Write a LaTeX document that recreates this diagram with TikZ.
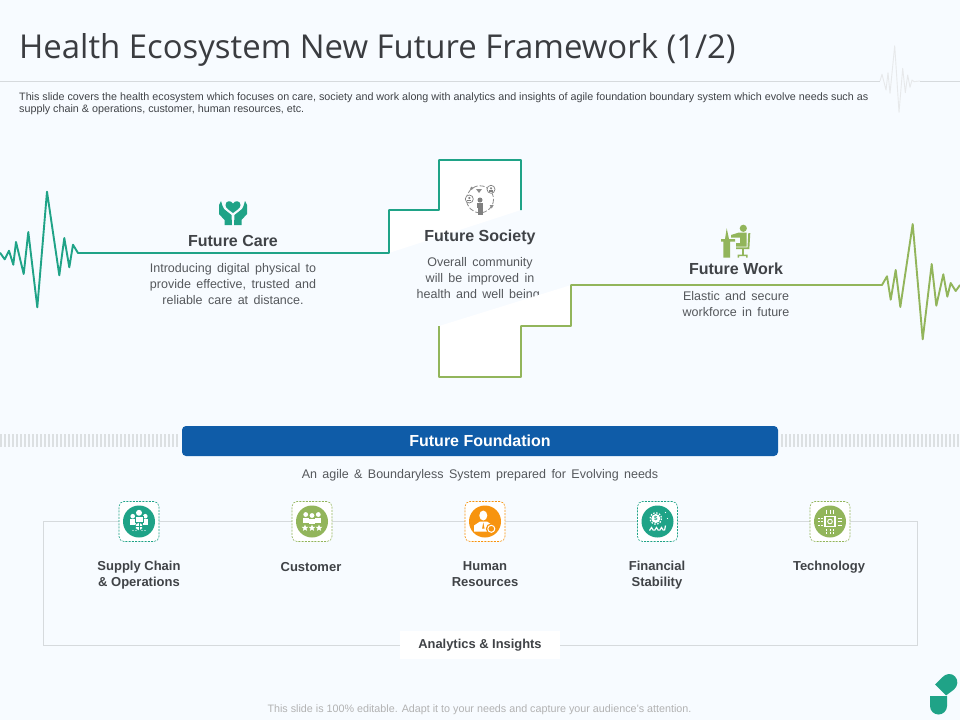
\documentclass[tikz,border=0pt]{standalone}
\usepackage{fontspec}
\setmainfont{Liberation Sans}
\newfontfamily\titlefont{Open Sans}
\newfontfamily\bodyfont[WordSpace=1.55]{Liberation Sans}
\usetikzlibrary{calc,shapes.geometric}

\definecolor{pagebg}{HTML}{F7FBFF}
\definecolor{teal}{HTML}{1FA387}
\definecolor{leaf}{HTML}{92B55B}
\definecolor{amber}{HTML}{F7940F}
\definecolor{barblue}{HTML}{0F5CA8}
\definecolor{inkdark}{HTML}{404347}
\definecolor{inkbody}{HTML}{55585C}
\definecolor{rulegrey}{HTML}{D6DADD}

\begin{document}
\begin{tikzpicture}[x=1pt,y=-1pt,
    bodytext/.style={text=inkbody, font=\bodyfont\fontsize{12.5}{16}\selectfont, align=center, inner sep=0},
    headtext/.style={text=inkdark, font=\fontsize{16}{18}\selectfont\bfseries, inner sep=0},
    itemtext/.style={text=inkdark, font=\fontsize{13}{16}\selectfont\bfseries, align=center, inner sep=0},
    pulseline/.style={line width=1.9pt, line join=round},
    iconbox/.style={draw=#1, dashed, dash pattern=on 2pt off 1.2pt, fill=white, rounded corners=5pt, minimum width=40pt, minimum height=40pt, inner sep=0, line width=0.6pt},
    icondisc/.style={circle, fill=#1, minimum size=32pt, inner sep=0}]

            \useasboundingbox (0,0) rectangle (960,720);
            \fill[pagebg] (0,0) rectangle (960,720);

            % Title block
            \node[anchor=west, inner sep=0, text=inkdark!90!black, font=\titlefont\fontsize{32.9}{36}\selectfont] (title) at (19,50) {Health Ecosystem New Future Framework (1/2)};
            \draw[rulegrey, line width=0.8pt] (0,81) -- (960,81);
            \fill[pagebg] (880,45) rectangle (920,115);
            \draw[rulegrey!60, line width=0.9pt, line join=round] (880,81) -- (882,74.3) -- (886,90) -- (888,72.7) -- (890,93.3) -- (894.7,45.7) -- (899,112.3) -- (902.7,68.3) -- (905.3,92.7) -- (907.7,75) -- (910,87.3) -- (912,80) -- (914,81.7) -- (920,81);
            \node[anchor=north west, inner sep=0, text=inkdark, align=left, font=\fontsize{10.75}{12}\selectfont] (intro) at (19,92.5) {This slide covers the health ecosystem which focuses on care, society and work along with analytics and insights of agile foundation boundary system which evolve needs such as\\supply chain \& operations, customer, human resources, etc.};

            % White cross, upper half
            \fill[white] (389,253) -- (389,210) -- (439,210) -- (439,160) -- (521,160) -- (521,210) -- cycle;

            % Future Society text
            \node[headtext] (society) at (480,237) {Future Society};
            \node[bodytext, anchor=north] (societytext) at (480,257.5) {Overall community\\will be improved in\\health and well being.};

            % White cross, lower half
            \fill[white] (571,285) -- (571,326) -- (521,326) -- (521,377) -- (439,377) -- (439,326) -- cycle;

            % Pulse lines
            \draw[teal, pulseline] (0,252.7) -- (4.7,259.3) -- (9,250.7) -- (13.3,264.7) -- (16,242) -- (23.7,274) -- (28.3,232) -- (37.3,307.3) -- (47,191.7) -- (59.3,275.3) -- (64.3,238) -- (69.3,267.3) -- (73,244.7) -- (78,253) -- (389,253) -- (389,210) -- (439,210) -- (439,160) -- (521,160) -- (521,210);
            \draw[leaf, pulseline] (439,326) -- (439,377) -- (521,377) -- (521,326) -- (571,326) -- (571,285) -- (882,285) -- (887,276.3) -- (890.7,299.7) -- (895.7,270) -- (900.3,307) -- (912.7,224) -- (922.7,339.3) -- (931.7,264) -- (936.3,305.7) -- (943.3,274.3) -- (947.3,296.7) -- (950.7,283) -- (955.7,291) -- (960,285);

            % Future Care
            \node[headtext] (care) at (233,240.5) {Future Care};
            \node[bodytext, anchor=north] (caretext) at (233,263.5) {Introducing digital physical to\\provide effective, trusted and\\reliable care at distance.};
            \begin{scope}[shift={(233,212)}]
                \fill[teal] (0,1) .. controls (-4,-2) and (-7.5,-4) .. (-7.5,-7) .. controls (-7.5,-11.5) and (-2,-12) .. (0,-8.5) .. controls (2,-12) and (7.5,-11.5) .. (7.5,-7) .. controls (7.5,-4) and (4,-2) .. (0,1) -- cycle;
                \fill[teal] (-14,-7) -- (-12,-11) -- (-10.5,-6) -- (-9,-3) -- (-1.5,3) -- (-1,13) -- (-8.5,13) -- (-8.5,8) -- (-14,2) -- cycle;
                \fill[teal] (14,-7) -- (12,-11) -- (10.5,-6) -- (9,-3) -- (1.5,3) -- (1,13) -- (8.5,13) -- (8.5,8) -- (14,2) -- cycle;
            \end{scope}

            % Future Society icon
            \begin{scope}[shift={(480,200)}]
                \draw[gray!90, line width=0.8pt, dash pattern=on 5pt off 2pt] (0,-0.7) circle (13.5);
                \fill[gray] (0,0) circle (2.5);
                \fill[gray] (-3,2.5) rectangle (3,8);
                \fill[gray] (-2.5,8) rectangle (2.5,15);
                \fill[gray!90] (-4,-11) -- (2,-11) -- (-1,-7) -- cycle;
                \fill[gray!90] (-8.3,-11.7) circle (1.6);
                \fill[gray!90] (9.7,5) -- (13.7,5) -- (11.7,8.5) -- cycle;
                \foreach \px/\py in {-10.7/-1,11/-10.7}{
                    \draw[gray, fill=white, line width=0.7pt] (\px,\py) circle (4);
                    \fill[gray] (\px,\py-1) circle (1.2);
                    \fill[gray] (\px-2,\py+2.4) rectangle (\px+2,\py+0.6);
                }
            \end{scope}

            % Future Work
            \node[headtext] (work) at (736,268.5) {Future Work};
            \node[bodytext, anchor=north] (worktext) at (736,291.5) {Elastic and secure\\workforce in future};
            \begin{scope}[shift={(737,242)}]
                \fill[leaf] (6.3,-13.7) circle (3.6);
                \fill[leaf] (-6,-7) -- (2,-9.5) -- (9.5,-9.5) -- (9.5,4.5) -- (-1,4.5) -- (-1,1) -- (3,1) -- (3,-4.5) -- (-6,-4.5) -- cycle;
                \fill[leaf] (-16,-3) -- (-2,-3) -- (-2,-0.3) -- (-7,-0.3) -- (-7,15.7) -- (-13.7,15.7) -- (-13.7,-0.3) -- (-16,-0.3) -- cycle;
                \fill[leaf] (-12,-3) -- (-10.3,-13.7) -- (-8,-3) -- cycle;
                \fill[leaf] (11.3,-9) -- (13.3,-9) -- (12.3,7) -- (-1,7) -- (-1,5.4) -- (10.5,5.4) -- cycle;
                \fill[leaf] (4.5,7) rectangle (6.5,12.5);
                \fill[leaf] (0.5,12.5) -- (10.5,12.5) -- (10.5,15.7) -- (9,15.7) -- (9,14.2) -- (2,14.2) -- (2,15.7) -- (0.5,15.7) -- cycle;
            \end{scope}

            % Foundation bar
            \foreach \tx in {1,5,...,177}{
                \draw[rulegrey!85, line width=1.4pt] (\tx,434) -- (\tx,447);
            }
            \foreach \tx in {782,786,...,958}{
                \draw[rulegrey!85, line width=1.4pt] (\tx,434) -- (\tx,447);
            }
            \node[fill=barblue, rounded corners=4pt, minimum width=596pt, minimum height=30pt, inner sep=0, text=white, font=\fontsize{16}{18}\selectfont\bfseries] (foundation) at (480,441) {Future Foundation};
            \node[bodytext] (foundationtext) at (480,475) {An agile \& Boundaryless System prepared for Evolving needs};

            % Frame and label
            \draw[rulegrey, line width=0.8pt] (43,521) rectangle (917,645);
            \node[fill=white, minimum width=160pt, minimum height=28pt, inner sep=0, text=inkdark, font=\fontsize{12.9}{15}\selectfont\bfseries] (analytics) at (480,645) {Analytics \& Insights};

            % Item boxes
            \foreach \bname/\bx/\bcol in {supply/139/teal, customer/312/leaf, human/485/amber, finance/657.5/teal, tech/830/leaf}{
                \node[iconbox=\bcol] (\bname box) at (\bx,521.5) {};
                \node[icondisc=\bcol] (\bname) at (\bname box.center) {};
            }

            % Supply chain glyph
            \begin{scope}[shift={(supply)}]
                \fill[white] (-6.3,-5.3) circle (2.3);
                \fill[white] (6.3,-5.3) circle (2.3);
                \fill[white] (-9.3,-2.8) rectangle (-3.5,3);
                \fill[white] (3.5,-2.8) rectangle (9.3,3);
                \fill[white] (0,-8.7) circle (3);
                \draw[teal, fill=white, line width=0.5pt] (-4,-5) rectangle (4,1);
                \draw[teal, fill=white, line width=0.6pt] (0,5) circle (4);
                \draw[teal, line width=0.4pt] (-4,5) -- (4,5) (0,1) -- (0,9);
                \foreach \dx in {-6,-3,3,6}{
                    \fill[white] (\dx,9) circle (0.6);
                }
            \end{scope}

            % Customer glyph
            \begin{scope}[shift={(customer)}]
                \foreach \dx/\dy in {-6.3/-7,6.3/-7,0/-6}{
                    \fill[white] (\dx,\dy) circle (2.4);
                    \fill[white] (\dx-3,\dy+3) rectangle (\dx+3,\dy+8.5);
                }
                \foreach \dx in {-7,0,7}{
                    \node[star, star points=5, star point ratio=2.3, fill=white, minimum size=7pt, inner sep=0] (star\dx) at (\dx,6.5) {};
                }
            \end{scope}

            % Human resources glyph
            \begin{scope}[shift={(human)}]
                \fill[white] (-1.7,-6) ellipse (4 and 5);
                \fill[white] (-11,10) -- (-11,4) -- (-5,0) -- (2,0) -- (8,4) -- (8,10) -- cycle;
                \fill[amber] (-1.7,1) -- (-0.5,7) -- (-2.9,7) -- cycle;
                \fill[amber] (6.3,7.3) circle (5.5);
                \draw[white, line width=1pt] (6.3,7.3) circle (3.5);
            \end{scope}

            % Financial glyph
            \begin{scope}[shift={(finance)}]
                \fill[white] (-1.7,-3) circle (4.5);
                \draw[white, line width=1.2pt, dash pattern=on 1.5pt off 1.5pt] (-1.7,-3) circle (5.7);
                \node[inner sep=0, text=teal, font=\fontsize{6}{6}\selectfont\bfseries] (dollar) at (-1.7,-3) {\$};
                \draw[white, line width=1.2pt] (-8,9) -- (-6,6) -- (-4,9) (-3,9) -- (-1,6) -- (1,9) (2,9) -- (4,6) -- (6,9) (7,9) -- (8,4);
                \fill[white] (8,-9) circle (0.7);
                \fill[white] (10,-3) circle (0.7);
            \end{scope}

            % Technology glyph
            \begin{scope}[shift={(tech)}]
                \draw[white, line width=1.6pt] (-5,-5) rectangle (5,5);
                \draw[white, line width=0.9pt] (0,0) circle (2.3);
                \foreach \dp in {-3.5,0,3.5}{
                    \draw[white, line width=0.9pt, dash pattern=on 2pt off 0.8pt] (\dp,-12) -- (\dp,-7.5);
                    \draw[white, line width=0.9pt, dash pattern=on 2pt off 0.8pt] (\dp,7.5) -- (\dp,12);
                    \draw[white, line width=0.9pt, dash pattern=on 2pt off 0.8pt] (-12,\dp) -- (-7.5,\dp);
                    \draw[white, line width=0.9pt, dash pattern=on 2pt off 0.8pt] (7.5,\dp) -- (12,\dp);
                }
            \end{scope}

            % Item labels
            \node[itemtext, anchor=north] (supplytext) at (139,561) {Supply Chain\\\& Operations};
            \node[itemtext, anchor=north] (customertext) at (311,562) {Customer};
            \node[itemtext, anchor=north] (humantext) at (485,561) {Human\\Resources};
            \node[itemtext, anchor=north] (financetext) at (657,561) {Financial\\Stability};
            \node[itemtext, anchor=north] (techtext) at (829,561) {Technology};

            % Footer and logo
            \node[text=gray!60, inner sep=0, font=\fontsize{10.75}{12}\selectfont] (footer) at (479.5,709.5) {This slide is 100\% editable. Adapt it to your needs and capture your audience's attention.};
            \fill[teal] (930,696) -- (947,696) -- (947,706) arc[start angle=0, end angle=180, radius=8.5] -- cycle;
            \fill[teal] (935,684.5) -- (942,677.5) .. controls (946,673) and (952,673) .. (955,676.5) .. controls (958.5,680) and (958,686) .. (954,689.5) -- (946,695.5) -- cycle;
            \end{tikzpicture}
\end{document}
